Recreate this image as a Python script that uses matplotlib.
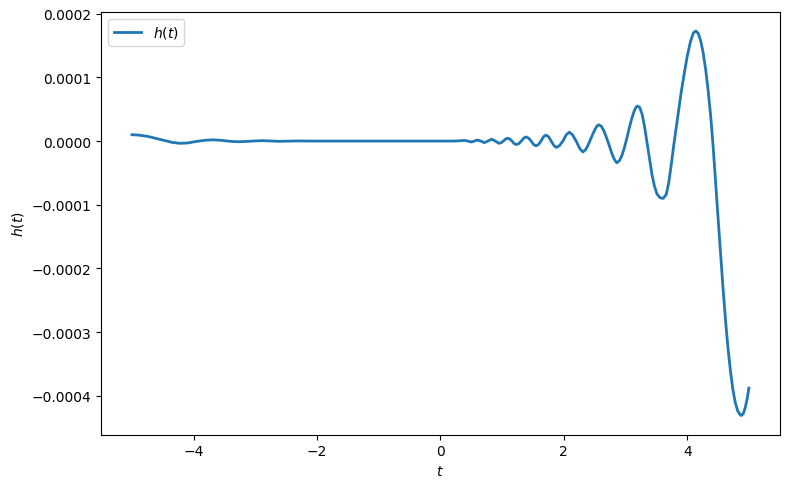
import numpy as np
import matplotlib
matplotlib.use("Agg")
import matplotlib.pyplot as plt

# h(t), values in units of 1e-4
t_vals = [
    -5.00, -4.90, -4.75, -4.60, -4.45, -4.35, -4.23, -4.10, -3.95, -3.82,
    -3.69, -3.55, -3.45, -3.35, -3.26, -3.15, -3.05, -2.95, -2.88, -2.75,
    -2.62, -2.45, -2.30, -2.10, -1.50, -1.00, -0.50, 0.00, 0.20, 0.30,
    0.39, 0.445, 0.50, 0.55, 0.60, 0.655, 0.71, 0.77, 0.83, 0.89,
    0.95, 0.985, 1.02, 1.055, 1.09, 1.125, 1.16, 1.195, 1.23, 1.27,
    1.31, 1.35, 1.39, 1.43, 1.47, 1.51, 1.55, 1.59, 1.63, 1.67,
    1.71, 1.755, 1.795, 1.84, 1.88, 1.93, 1.985, 2.04, 2.09, 2.14,
    2.20, 2.26, 2.31, 2.35, 2.39, 2.43, 2.47, 2.51, 2.54, 2.57,
    2.61, 2.65, 2.69, 2.73, 2.77, 2.81, 2.84, 2.86, 2.90, 2.94,
    2.98, 3.02, 3.06, 3.10, 3.14, 3.17, 3.19, 3.23, 3.27, 3.31,
    3.35, 3.39, 3.43, 3.47, 3.51, 3.56, 3.61, 3.66, 3.70, 3.74,
    3.78, 3.82, 3.86, 3.90, 3.95, 4.00, 4.05, 4.10, 4.14, 4.18,
    4.22, 4.26, 4.30, 4.34, 4.38, 4.42, 4.46, 4.50, 4.54, 4.58,
    4.62, 4.66, 4.70, 4.74, 4.78, 4.82, 4.86, 4.88, 4.91, 4.94,
    4.97, 5.00,
]
h_vals = [
    0.100, 0.095, 0.075, 0.040, 0.005, -0.020, -0.035, -0.030, -0.005, 0.012,
    0.020, 0.012, 0.000, -0.008, -0.010, -0.006, 0.000, 0.005, 0.007, 0.002,
    -0.004, -0.001, 0.002, 0.000, 0.000, 0.000, 0.000, 0.000, 0.000, 0.004,
    0.010, 0.000, -0.015, 0.000, 0.016, 0.000, -0.025, 0.000, 0.030, 0.000,
    -0.035, -0.025, 0.000, 0.032, 0.045, 0.032, 0.000, -0.040, -0.055, -0.040,
    0.000, 0.046, 0.065, 0.046, 0.000, -0.053, -0.075, -0.053, 0.000, 0.067,
    0.095, 0.067, 0.000, -0.070, -0.100, -0.071, 0.000, 0.100, 0.140, 0.100,
    0.000, -0.120, -0.170, -0.140, -0.070, 0.020, 0.110, 0.190, 0.240, 0.255,
    0.230, 0.160, 0.060, -0.050, -0.170, -0.270, -0.320, -0.340, -0.310, -0.230,
    -0.110, 0.040, 0.200, 0.350, 0.470, 0.530, 0.550, 0.530, 0.420, 0.220,
    -0.030, -0.290, -0.530, -0.710, -0.830, -0.890, -0.900, -0.840, -0.660, -0.380,
    -0.080, 0.200, 0.480, 0.750, 1.050, 1.330, 1.550, 1.700, 1.730, 1.690,
    1.570, 1.380, 1.120, 0.790, 0.400, -0.080, -0.650, -1.200, -1.760, -2.300,
    -2.800, -3.240, -3.600, -3.900, -4.110, -4.240, -4.300, -4.310, -4.280, -4.190,
    -4.060, -3.880,
]

t = np.array(t_vals)
h = np.array(h_vals) * 1e-4

fig, ax = plt.subplots(figsize=(7.9, 4.89), dpi=100)
fig.subplots_adjust(left=0.128, right=0.987, top=0.974, bottom=0.109)

ax.plot(t, h, color="C0", linewidth=2, label="$h(t)$")
ax.set_xlabel("$t$")
ax.set_ylabel("$h(t)$")
ax.legend(loc="upper left")

fig.savefig("out.png", dpi=100)
